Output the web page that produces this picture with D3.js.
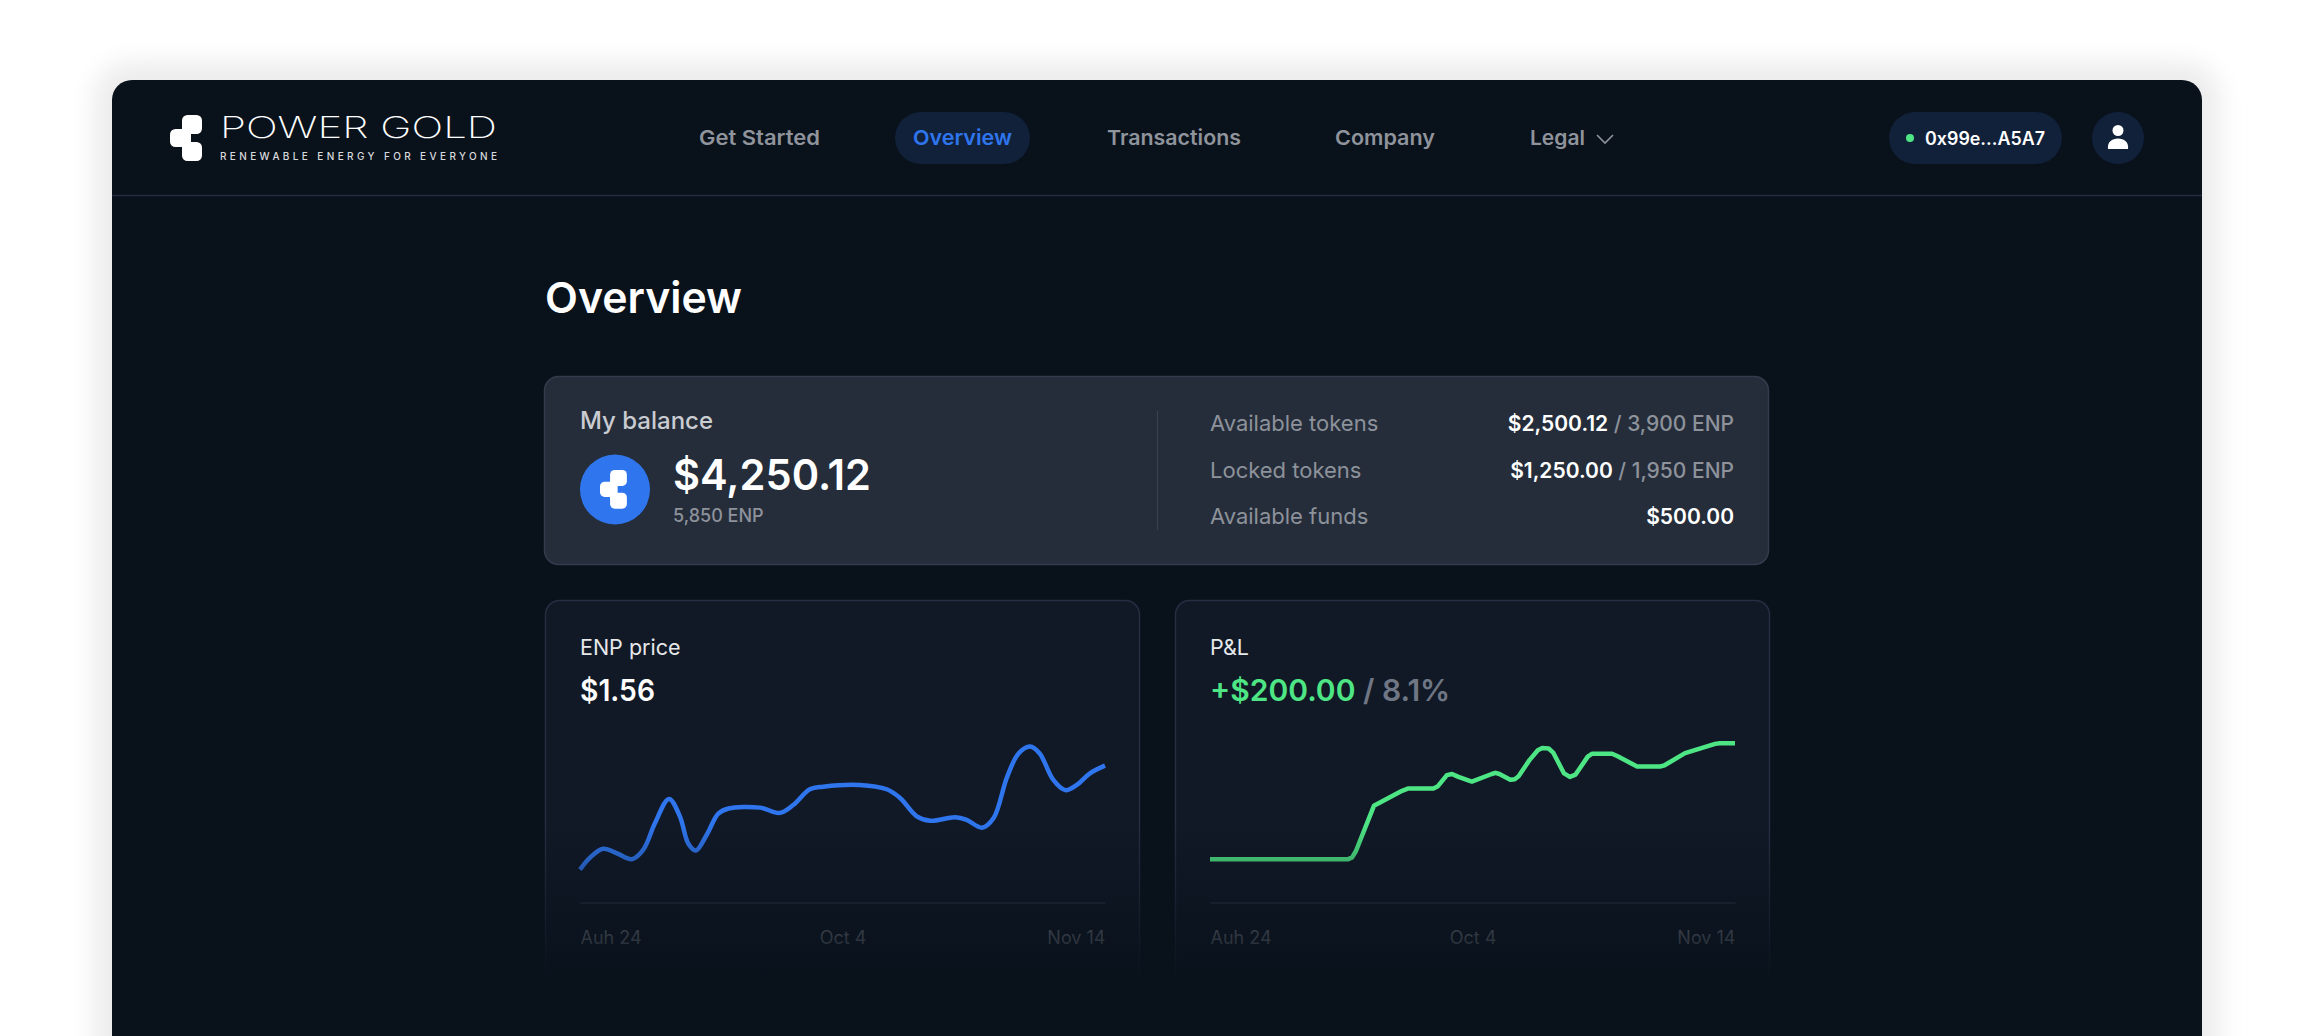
<!DOCTYPE html>
<html>
<head>
<meta charset="utf-8">
<script src="https://cdn.jsdelivr.net/npm/d3@7"></script>
<style>
  html, body { margin: 0; padding: 0; background: #fff; overflow: hidden; }
  svg { display: block; font-family: Inter, "Noto Sans", sans-serif; }
</style>
</head>
<body>
<svg id="page" width="2314" height="1036"></svg>
<script>
// values: days since the first tick, price in $, P&L in $
const tickDays = [0, 41, 82];
const tickLabels = ["Auh 24", "Oct 4", "Nov 14"];

const priceDays = [0, 1.6, 3.6, 5.7, 8.1, 9.9, 11.7, 13.9, 15.6, 16.9, 18.1, 19.8, 21.6, 23.2, 28.1, 31.2, 33.3, 35.9, 38, 43.7, 47.9, 50, 52.6, 54.7, 58.6, 60.4, 62.8, 64.6, 66.7, 68.5, 70.3, 71.8, 73.9, 75.8, 77.6, 79.6, 82];
const priceValues = [0.37, 0.51, 0.61, 0.56, 0.49, 0.6, 0.9, 1.18, 0.98, 0.67, 0.59, 0.77, 1.01, 1.07, 1.08, 1.02, 1.11, 1.29, 1.32, 1.34, 1.29, 1.19, 0.98, 0.93, 0.97, 0.94, 0.85, 0.96, 1.43, 1.7, 1.78, 1.7, 1.4, 1.28, 1.34, 1.47, 1.56];

const pnlDays = [0, 21.6, 22.2, 22.8, 25.6, 30, 31, 34.9, 35.6, 37, 37.8, 38.8, 40.9, 44, 44.6, 45.2, 46.9, 47.6, 48.2, 49.9, 51.2, 51.9, 52.9, 53.6, 55.3, 56.2, 57.1, 59, 59.7, 62.8, 63.6, 66.7, 70.3, 71, 74.2, 78.9, 79.6, 82];
const pnlValues = [0, 0, 3, 14, 92, 118, 122, 122, 126, 145, 147, 142, 134, 147, 149, 147, 137, 138, 143, 171, 188, 192, 191, 184, 148, 142, 146, 177, 182, 182, 178, 160, 160, 162, 183, 199, 200, 200];

const navItems = ["Get Started", "Overview", "Transactions", "Company", "Legal"];
const navX = [699, 913, 1107, 1335, 1530];
const navWidth = [121, 99, 134, 100, 55];
const balanceRows = ["Available tokens", "Locked tokens", "Available funds"];
const balanceUsd = ["$2,500.12", "$1,250.00", "$500.00"];
const balanceEnp = [" / 3,900 ENP", " / 1,950 ENP", ""];

const BG = "#09111b";
const BLUE = "#2f76ee";
const GREEN = "#4ee685";
const GREY = "#8d929b";

const svg = d3.select("#page");
const defs = svg.append("defs");

const addText = (parent, x, y, str, size, weight, fill, anchor) =>
  parent
    .append("text")
    .attr("x", x)
    .attr("y", y)
    .attr("font-size", size)
    .attr("font-weight", weight)
    .attr("fill", fill)
    .attr("text-anchor", anchor || "start")
    .text(str);

// the three lobed logo mark, 32 x 46 units
const addMark = (parent, x, y, scale, fill) => {
  const g = parent
    .append("g")
    .attr("transform", `translate(${x},${y}) scale(${scale})`)
    .attr("fill", fill);
  [
    [12, 0, 20, 19],
    [0, 14, 20, 18],
    [12, 27, 20, 19],
    [12, 8, 9, 30],
  ].forEach(([rx, ry, w, h]) =>
    g.append("rect").attr("x", rx).attr("y", ry).attr("width", w).attr("height", h).attr("rx", 5.5)
  );
};

// soft shadow around the window
defs.append("filter")
  .attr("id", "soft")
  .attr("x", "-5%").attr("y", "-10%").attr("width", "110%").attr("height", "120%")
  .append("feGaussianBlur")
  .attr("stdDeviation", 12);
svg
  .append("rect")
  .attr("x", 112 - 18)
  .attr("y", 80 - 18)
  .attr("width", 2090 + 36)
  .attr("height", 1100)
  .attr("rx", 36)
  .attr("fill", "#ececec")
  .attr("filter", "url(#soft)");
svg.append("rect").attr("x", 112).attr("y", 80).attr("width", 2090).attr("height", 1100).attr("rx", 20).attr("fill", BG);

// header
svg.append("line").attr("x1", 112).attr("x2", 2202).attr("y1", 195.5).attr("y2", 195.5).attr("stroke", "#272d40").attr("stroke-width", 1.5);
addMark(svg, 170, 115, 1, "#fff");
addText(svg, 220, 138, "POWER GOLD", 30, 200, "#fff").attr("textLength", 277).attr("lengthAdjust", "spacingAndGlyphs");
addText(svg, 220, 160, "RENEWABLE ENERGY FOR EVERYONE", 10, 500, "#d8dadd").attr("textLength", 277).attr("lengthAdjust", "spacing");

svg.append("rect").attr("x", 895).attr("y", 112).attr("width", 135).attr("height", 52).attr("rx", 26).attr("fill", "#11213a");
navItems.forEach((d, i) => {
  addText(svg, navX[i], 145, d, 20.5, 600, d === "Overview" ? BLUE : "#8f949c")
    .attr("textLength", navWidth[i])
    .attr("lengthAdjust", "spacingAndGlyphs");
});
svg.append("path").attr("d", "M1597,135 L1605,143 L1613,135").attr("fill", "none").attr("stroke", "#8f949c").attr("stroke-width", 1.6);

svg.append("rect").attr("x", 1889).attr("y", 112).attr("width", 173).attr("height", 52).attr("rx", 26).attr("fill", "#11213a");
svg.append("circle").attr("cx", 1910).attr("cy", 138).attr("r", 4).attr("fill", GREEN);
addText(svg, 1925, 144.5, "0x99e...A5A7", 18, 600, "#fff").attr("textLength", 120).attr("lengthAdjust", "spacingAndGlyphs");
svg.append("circle").attr("cx", 2118).attr("cy", 138).attr("r", 26).attr("fill", "#11213a");
svg.append("circle").attr("cx", 2118).attr("cy", 130.5).attr("r", 5.5).attr("fill", "#fff");
svg.append("path").attr("d", "M2108,149 C2107,142 2112,138.5 2118,138.5 C2124,138.5 2129,142 2128,149 Z").attr("fill", "#fff");

addText(svg, 545, 313, "Overview", 43, 600, "#fff").attr("textLength", 197).attr("lengthAdjust", "spacingAndGlyphs");

// balance card
svg.append("rect").attr("x", 544.5).attr("y", 376.5).attr("width", 1224).attr("height", 188).attr("rx", 14).attr("fill", "#252d3a").attr("stroke", "#323c4c").attr("stroke-width", 1.5);
addText(svg, 580, 429, "My balance", 24, 500, "#c9ccd1");
svg.append("circle").attr("cx", 615).attr("cy", 489.5).attr("r", 35).attr("fill", BLUE);
addMark(svg, 600, 470, 0.84, "#fff");
addText(svg, 673, 490, "$4,250.12", 43, 600, "#fff").attr("textLength", 198).attr("lengthAdjust", "spacingAndGlyphs");
addText(svg, 673, 521.5, "5,850 ENP", 18, 500, GREY);
svg.append("line").attr("x1", 1157.5).attr("x2", 1157.5).attr("y1", 411).attr("y2", 530).attr("stroke", "#39424f");

balanceRows.forEach((d, i) => {
  const y = [431, 477.5, 524][i];
  addText(svg, 1210, y, d, 22, 400, GREY);
  const t = addText(svg, 1734, y, null, 21, 600, "#fff", "end");
  t.append("tspan").text(balanceUsd[i]);
  t.append("tspan").attr("fill", GREY).attr("font-weight", 500).text(balanceEnp[i]);
});

// one line card: scales map days and values into the plot box
const drawCard = (cardX, title, days, values, yDomain, color, curve) => {
  const left = cardX + 35;
  const right = left + 525;
  const card = svg.append("g");

  card.append("rect").attr("x", cardX + 0.5).attr("y", 600.5).attr("width", 594).attr("height", 395).attr("rx", 14).attr("fill", "#111927").attr("stroke", "#252f42").attr("stroke-width", 1.5);
  addText(card, left, 655, title, 21.5, 400, "#e6e8ea");

  const x = d3.scaleLinear().domain([tickDays[0], tickDays[2]]).range([left, right]);
  const y = d3.scaleLinear().domain(yDomain).range([902, 743.3]);

  const axis = d3
    .axisBottom(x)
    .tickValues(tickDays)
    .tickSize(0)
    .tickPadding(29)
    .tickFormat((d, i) => tickLabels[i]);

  const ax = card.append("g").attr("transform", "translate(0,902.5)").call(axis);
  ax.select(".domain").attr("stroke", "#3a4454");
  ax.selectAll("text")
    .attr("font-size", 18)
    .attr("font-family", "Inter")
    .attr("fill", "#8d929b")
    .attr("text-anchor", (d, i) => ["start", "middle", "end"][i]);

  const line = d3
    .line()
    .x((d, i) => x(days[i]))
    .y((d) => y(d))
    .curve(curve);

  card.append("path").datum(values).attr("d", line).attr("fill", "none").attr("stroke", color).attr("stroke-width", 4.5).attr("stroke-linejoin", "round");

  // fade the lower part of the card into the page
  card.append("rect").attr("x", cardX - 1).attr("y", 823).attr("width", 597).attr("height", 175).attr("fill", "url(#fade)");
  return card;
};

const fade = defs.append("linearGradient").attr("id", "fade").attr("x1", 0).attr("x2", 0).attr("y1", 0).attr("y2", 1);
fade.append("stop").attr("offset", 0).attr("stop-color", BG).attr("stop-opacity", 0);
fade.append("stop").attr("offset", 0.92).attr("stop-color", BG).attr("stop-opacity", 1);

const priceCard = drawCard(545, "ENP price", priceDays, priceValues, [0, 1.816], BLUE, d3.curveCatmullRom.alpha(0.5));
addText(priceCard, 580, 700.5, "$1.56", 30, 600, "#fff").attr("textLength", 75).attr("lengthAdjust", "spacingAndGlyphs");

const pnlCard = drawCard(1175, "P&L", pnlDays, pnlValues, [-74, 200], GREEN, d3.curveLinear);
const pnlText = addText(pnlCard, 1210, 700.5, null, 30, 600, GREEN);
pnlText.append("tspan").text("+$200.00");
pnlText.append("tspan").attr("fill", "#6f7684").text(" / 8.1%");
</script>
</body>
</html>
